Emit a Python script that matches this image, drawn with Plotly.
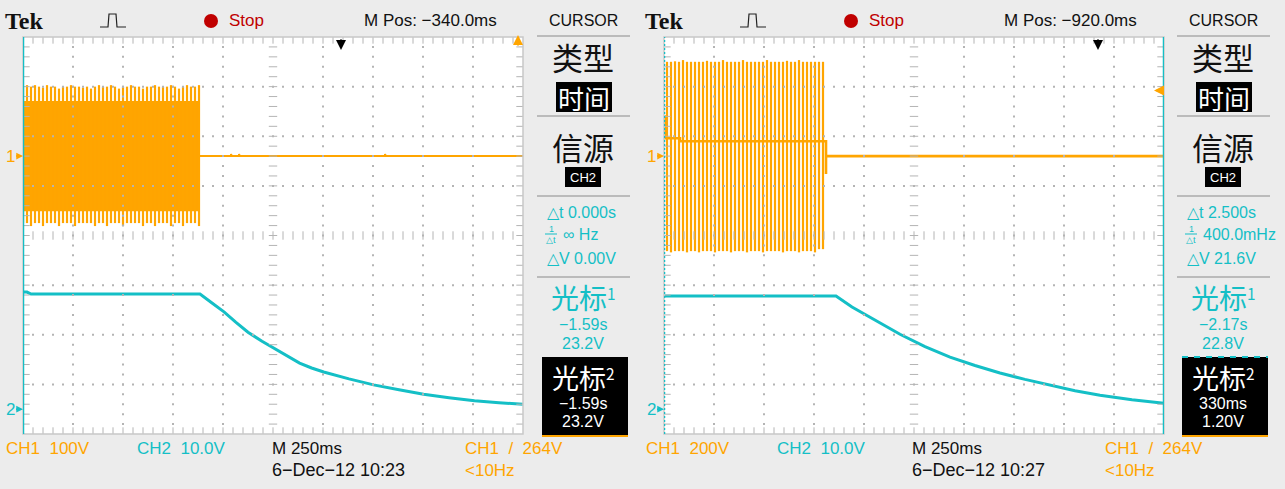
import plotly.graph_objects as go

W, H = 1285, 489
ORANGE = "#FFA500"
CYAN = "#14BFC6"
GRIDC = "#B4B4B4"
BG = "#ECECEC"
FONT = "Liberation Sans, Arial, sans-serif"
CJK = "Noto Sans CJK SC, sans-serif"
SERIF = "Liberation Serif, Times New Roman, serif"

# ---------------- data : capture A (10:23) ----------------
a_time_left = -1.59          # s, left edge of screen (cursor 1 & 2)
a_time_div = 0.25            # s/div
a_ch1_scale, a_ch1_gnd = 100.0, 1.6     # V/div, ground marker (div)
a_ch2_scale, a_ch2_gnd = 10.0, -3.5
a_ch1_burst_start, a_ch1_burst_end = -1.59, -0.705
a_ch1_period = 0.02
a_ch1_envelope = 111.0
a_ch1_peaks = [140, 143, 140, 143, 140, 138, 143, 140, 140, 136, 140, 140, 143, 140, 140,
               138, 140, 136, 140, 143, 140, 140, 143, 140, 136, 140, 140, 143, 140, 140,
               136, 140, 140, 143, 140, 140, 140, 143, 140, 136, 140, 143, 140, 140, 143]
a_ch1_troughs = [-135, -135, -141, -135, -135, -141, -135, -135, -135, -141, -135, -135, -135, -141, -135,
                 -135, -135, -135, -141, -135, -135, -141, -135, -135, -135, -141, -135, -135, -135, -135,
                 -141, -135, -135, -141, -135, -135, -135, -141, -135, -135, -141, -135, -135, -135, -141]
a_ch1_tail_t = [-0.705, -0.55, -0.55, -0.545, -0.51, -0.51, -0.505, 0.22, 0.22, 0.225, 0.91]
a_ch1_tail_v = [0, 0, 4, 0, 0, 4, 0, 0, 4, 0, 0]
a_ch2_t = [-1.59, -1.57, -1.55, -0.705, -0.645, -0.585, -0.525, -0.465, -0.395, -0.3275, -0.267,
           -0.207, -0.147, -0.0865, 0.04, 0.163, 0.29, 0.413, 0.54, 0.6675, 0.79, 0.91]
a_ch2_v = [23.6, 23.6, 23.2, 23.2, 21.4, 19.6, 17.5, 15.5, 13.7, 12.1, 10.6,
           9.3, 8.3, 7.5, 6.1, 4.9, 3.9, 3.0, 2.3, 1.7, 1.3, 1.0]

# ---------------- data : capture B (10:27) ----------------
b_time_left = -2.17
b_time_div = 0.25
b_ch1_scale, b_ch1_gnd = 200.0, 1.6
b_ch2_scale, b_ch2_gnd = 10.0, -3.5
b_ch1_burst_start = -2.155
b_ch1_period = 0.02
b_ch1_peaks = [380, 380, 382, 380, 387, 380, 380, 380, 380, 380, 384, 380, 380, 380, 387, 380, 380, 380, 380, 387,
               380, 380, 380, 380, 380, 387, 380, 380, 380, 380, 384, 380, 380, 387, 380, 380, 380, 380, 380, 380]
b_ch1_troughs = [-383, -388, -383, -383, -383, -388, -383, -383, -388, -383, -383, -383, -388, -383, -383, -383, -388, -383, -383, -383,
                 -388, -383, -383, -383, -388, -383, -383, -383, -383, -388, -383, -383, -383, -388, -383, -383, -383, -388, -375, -375]
b_ch1_mid_t = [-2.165, -2.165, -2.09, -2.09, -1.36, -1.36, -1.36, 0.33]
b_ch1_mid_v = [165, 72, 72, 60, 60, -72, 0, 0]
b_ch2_t = [-2.17, -1.31, -1.23, -1.14, -0.99, -0.865, -0.74, -0.615, -0.49, -0.365, -0.24, -0.115, 0.01, 0.17, 0.33]
b_ch2_v = [22.8, 22.8, 20.6, 18.5, 15.1, 12.6, 10.5, 8.8, 7.3, 6.0, 4.8, 3.7, 2.8, 1.9, 1.2]

# ---------------- labels ----------------
NB = "\u00a0"
a_labels = dict(mpos="M Pos: \u2212340.0ms", ch1=f"CH1{NB}{NB}100V", ch2=f"CH2{NB}{NB}10.0V", tb="M 250ms",
                date="6\u2212Dec\u221212 10:23", trig=f"CH1{NB}{NB}/{NB}{NB}264V", freq="<10Hz",
                dt="\u25b3t 0.000s", inv="\u221e Hz", dv="\u25b3V 0.00V",
                c1=["\u22121.59s", "23.2V"], c2=["\u22121.59s", "23.2V"])
b_labels = dict(mpos="M Pos: \u2212920.0ms", ch1=f"CH1{NB}{NB}200V", ch2=f"CH2{NB}{NB}10.0V", tb="M 250ms",
                date="6\u2212Dec\u221212 10:27", trig=f"CH1{NB}{NB}/{NB}{NB}264V", freq="<10Hz",
                dt="\u25b3t 2.500s", inv="400.0mHz", dv="\u25b3V 21.6V",
                c1=["\u22122.17s", "22.8V"], c2=["330ms", "1.20V"])
trigger_level_v = 264.0

panels = [
    dict(off=0, px0=23, px1=523, t_left=a_time_left, t_div=a_time_div,
         s1=a_ch1_scale, g1=a_ch1_gnd, s2=a_ch2_scale, g2=a_ch2_gnd, lab=a_labels,
         cursors=[(a_time_left, "solid")], box_dash=False),
    dict(off=640, px0=664, px1=1164, t_left=b_time_left, t_div=b_time_div,
         s1=b_ch1_scale, g1=b_ch1_gnd, s2=b_ch2_scale, g2=b_ch2_gnd, lab=b_labels,
         cursors=[(b_time_left, "2px,2px"), (b_time_left + 10 * b_time_div, "solid")], box_dash=True),
]
PY0, PY1 = 37, 434


def px(x):
    return x / W


def py(y):
    return 1 - y / H


def axn(kind, n):
    return kind if n == 1 else f"{kind}{n}"


fig = go.Figure()
layout = dict(width=W, height=H, margin=dict(l=0, r=0, t=0, b=0),
              paper_bgcolor=BG, plot_bgcolor="white", showlegend=False)
shapes, annots = [], []


def txt(text, x, y, size, color="#1a1a1a", xanchor="left", family=FONT):
    annots.append(dict(xref="paper", yref="paper", x=px(x), y=py(y), text=text, showarrow=False,
                       xanchor=xanchor, yanchor="middle", font=dict(family=family, size=size, color=color)))


def grid_trace(xa, ya):
    dx, dy = [], []
    for xi in [1, 2, 3, 4, 6, 7, 8, 9]:
        for k in range(1, 40):
            dx.append(xi); dy.append(-4 + 0.2 * k)
    for yi in [-3, -2, -1, 1, 2, 3]:
        for k in range(1, 50):
            dx.append(0.2 * k); dy.append(yi)
    fig.add_trace(go.Scatter(x=dx, y=dy, mode="markers", xaxis=xa, yaxis=ya, hoverinfo="skip",
                             marker=dict(symbol="square", size=2, color=GRIDC, line=dict(width=0))))
    hx, hy = [], []
    for k in range(1, 40):
        for xv in [5, 0.05, 9.95]:
            hx.append(xv); hy.append(-4 + 0.2 * k)
    fig.add_trace(go.Scatter(x=hx, y=hy, mode="markers", xaxis=xa, yaxis=ya, hoverinfo="skip",
                             marker=dict(symbol="line-ew", size=6, line=dict(width=1, color=GRIDC))))
    vx, vy = [], []
    for k in range(1, 50):
        for yv in [0, 3.95, -3.95]:
            vx.append(0.2 * k); vy.append(yv)
    fig.add_trace(go.Scatter(x=vx, y=vy, mode="markers", xaxis=xa, yaxis=ya, hoverinfo="skip",
                             marker=dict(symbol="line-ns", size=6, line=dict(width=1, color=GRIDC))))


for p, P in enumerate(panels):
    tid, gx = 2 * p + 1, 2 * p + 2
    y1, y2, gy = 3 * p + 1, 3 * p + 2, 3 * p + 3
    dom_x = [px(P["px0"]), px(P["px1"])]
    dom_y = [py(PY1), py(PY0)]
    t0, t1 = P["t_left"], P["t_left"] + 10 * P["t_div"]
    layout[axn("xaxis", tid)] = dict(domain=dom_x, range=[t0, t1], visible=False, anchor=axn("y", y1))
    layout[axn("yaxis", y1)] = dict(domain=dom_y, range=[(-4 - P["g1"]) * P["s1"], (4 - P["g1"]) * P["s1"]],
                                    visible=False, anchor=axn("x", tid))
    layout[axn("yaxis", y2)] = dict(overlaying=axn("y", y1), range=[(-4 - P["g2"]) * P["s2"], (4 - P["g2"]) * P["s2"]],
                                    visible=False, anchor=axn("x", tid))
    layout[axn("xaxis", gx)] = dict(overlaying=axn("x", tid), range=[0, 10], visible=False, anchor=axn("y", gy))
    layout[axn("yaxis", gy)] = dict(overlaying=axn("y", y1), range=[-4, 4], visible=False, anchor=axn("x", gx))
    XT, Y1, Y2 = axn("x", tid), axn("y", y1), axn("y", y2)

    # ---- CH1 ----
    if p == 0:
        env = a_ch1_envelope
        fig.add_trace(go.Scatter(x=[a_ch1_burst_start, a_ch1_burst_end, a_ch1_burst_end, a_ch1_burst_start],
                                 y=[-env, -env, env, env], fill="toself", fillcolor=ORANGE, mode="lines",
                                 line=dict(width=0, color=ORANGE), xaxis=XT, yaxis=Y1, hoverinfo="skip"))
        start, per, peaks, troughs = a_ch1_burst_start, a_ch1_period, a_ch1_peaks, a_ch1_troughs
        tail_t, tail_v, tail_w = a_ch1_tail_t, a_ch1_tail_v, 2
    else:
        start, per, peaks, troughs = b_ch1_burst_start, b_ch1_period, b_ch1_peaks, b_ch1_troughs
        tail_t, tail_v, tail_w = b_ch1_mid_t, b_ch1_mid_v, 2.6
    sx, sy = [], []
    for i, (pk, tr) in enumerate(zip(peaks, troughs)):
        t = start + i * per
        sx += [t, t, None]
        sy += [tr, pk, None]
    fig.add_trace(go.Scatter(x=sx, y=sy, mode="lines", line=dict(width=2.2, color=ORANGE),
                             xaxis=XT, yaxis=Y1, hoverinfo="skip"))
    fig.add_trace(go.Scatter(x=tail_t, y=tail_v, mode="lines", line=dict(width=tail_w, color=ORANGE),
                             xaxis=XT, yaxis=Y1, hoverinfo="skip"))
    # ---- CH2 ----
    ct, cv = (a_ch2_t, a_ch2_v) if p == 0 else (b_ch2_t, b_ch2_v)
    fig.add_trace(go.Scatter(x=ct, y=cv, mode="lines", line=dict(width=3, color=CYAN),
                             xaxis=XT, yaxis=Y2, hoverinfo="skip"))
    # ---- graticule ----
    grid_trace(axn("x", gx), axn("y", gy))

    shapes.append(dict(type="rect", xref=f"{XT} domain", yref=f"{Y1} domain", x0=0, x1=1, y0=0, y1=1,
                       line=dict(color="#C8C8C8", width=1.5), layer="above"))
    for ct_, dash in P["cursors"]:
        shapes.append(dict(type="line", xref=XT, yref=f"{Y1} domain", x0=ct_, x1=ct_, y0=0, y1=1,
                           line=dict(color=CYAN, width=2.5, dash=dash), layer="above"))
    annots.append(dict(x=t0, y=0, xref=XT, yref=Y1, text="1", showarrow=True, ax=-13, ay=0,
                       arrowhead=2, arrowsize=0.9, arrowwidth=1.5, arrowcolor=ORANGE, standoff=0,
                       font=dict(family=FONT, size=17, color=ORANGE)))
    annots.append(dict(x=t0, y=0, xref=XT, yref=Y2, text="2", showarrow=True, ax=-13, ay=0,
                       arrowhead=2, arrowsize=0.9, arrowwidth=1.5, arrowcolor=CYAN, standoff=0,
                       font=dict(family=FONT, size=17, color=CYAN)))
    annots.append(dict(x=0, y=py(50), xref=XT, yref="paper", text="", showarrow=True, ax=0, ay=-12,
                       arrowhead=2, arrowsize=1, arrowwidth=2, arrowcolor="black", standoff=0))
    top_v = (4 - P["g1"]) * P["s1"]
    if trigger_level_v > top_v:
        annots.append(dict(x=t1 - 0.025, y=py(35), xref=XT, yref="paper", text="", showarrow=True, ax=0, ay=12,
                           arrowhead=2, arrowsize=1, arrowwidth=2, arrowcolor=ORANGE, standoff=0))
    else:
        annots.append(dict(x=t1 - 0.05, y=trigger_level_v, xref=XT, yref=Y1, text="", showarrow=True, ax=10, ay=0,
                           arrowhead=2, arrowsize=1, arrowwidth=2, arrowcolor=ORANGE, standoff=0))

    # ---- top bar ----
    o = P["off"]
    L = P["lab"]
    txt("<b>Tek</b>", 3 + o, 21, 24, "#111", family=SERIF)
    shapes.append(dict(type="path", xref="paper", yref="paper",
                       path=f"M {px(100+o)} {py(27)} L {px(108+o)} {py(27)} L {px(109+o)} {py(14)} L {px(116+o)} {py(14)} "
                            f"L {px(117+o)} {py(27)} L {px(126+o)} {py(27)}",
                       line=dict(color="#222", width=1.2)))
    shapes.append(dict(type="circle", xref="paper", yref="paper", x0=px(204 + o), x1=px(218 + o),
                       y0=py(28), y1=py(14), fillcolor="#C00000", line=dict(width=0)))
    txt("Stop", 227 + o, 21, 17, "#C00000")
    txt(L["mpos"], 362 + o, 21, 17, "#111")
    txt("CURSOR", 583 + o, 21, 16, "#111", xanchor="center")

    # ---- side menu ----
    for yy in [36, 116, 196, 277]:
        shapes.append(dict(type="line", xref="paper", yref="paper", x0=px(537 + o), x1=px(630 + o),
                           y0=py(yy), y1=py(yy), line=dict(color="#BBBBBB", width=2)))
    txt("类型", 583 + o, 56, 31, "#111", xanchor="center", family=CJK)
    shapes.append(dict(type="rect", xref="paper", yref="paper", x0=px(556 + o), x1=px(612 + o),
                       y0=py(112), y1=py(82), fillcolor="black", line=dict(width=0)))
    txt("时间", 584 + o, 97, 26, "white", xanchor="center", family=CJK)
    txt("信源", 583 + o, 146, 31, "#111", xanchor="center", family=CJK)
    shapes.append(dict(type="rect", xref="paper", yref="paper", x0=px(565 + o), x1=px(601 + o),
                       y0=py(187), y1=py(167), fillcolor="black", line=dict(width=0)))
    txt("CH2", 583 + o, 177, 13, "white", xanchor="center")
    txt(L["dt"], 545 + o, 212, 16, CYAN)
    txt("1", 551 + o, 229, 9, CYAN, xanchor="center")
    shapes.append(dict(type="line", xref="paper", yref="paper", x0=px(545 + o), x1=px(557 + o),
                       y0=py(234), y1=py(234), line=dict(color=CYAN, width=1)))
    txt("\u25b3t", 551 + o, 240, 9, CYAN, xanchor="center")
    txt(L["inv"], 561 + o, 235, 16, CYAN)
    txt(L["dv"], 545 + o, 258, 16, CYAN)
    txt("光标<span style='font-size:22px'><sup>1</sup></span>", 583 + o, 297, 28, CYAN, xanchor="center", family=CJK)
    txt(L["c1"][0], 583 + o, 324, 16, CYAN, xanchor="center")
    txt(L["c1"][1], 583 + o, 343, 16, CYAN, xanchor="center")
    shapes.append(dict(type="rect", xref="paper", yref="paper", x0=px(542 + o), x1=px(628 + o),
                       y0=py(435), y1=py(357), fillcolor="black", line=dict(width=0)))
    shapes.append(dict(type="line", xref="paper", yref="paper", x0=px(542 + o), x1=px(628 + o),
                       y0=py(436), y1=py(436), line=dict(color=ORANGE, width=2)))
    if P["box_dash"]:
        shapes.append(dict(type="line", xref="paper", yref="paper", x0=px(542 + o), x1=px(628 + o),
                           y0=py(357), y1=py(357), line=dict(color=CYAN, width=2, dash="6px,6px")))
    txt("光标<span style='font-size:22px'><sup>2</sup></span>", 583 + o, 377, 27, "white", xanchor="center", family=CJK)
    txt(L["c2"][0], 583 + o, 403, 16, "white", xanchor="center")
    txt(L["c2"][1], 583 + o, 421, 16, "white", xanchor="center")

    # ---- bottom status ----
    txt(L["ch1"], 4 + o, 448, 17, ORANGE)
    txt(L["ch2"], 135 + o, 448, 17, CYAN)
    txt(L["tb"], 270 + o, 448, 17, "#111")
    txt(L["date"], 270 + o, 470, 18, "#111")
    txt(L["trig"], 463 + o, 448, 17, ORANGE)
    txt(L["freq"], 463 + o, 470, 17, ORANGE)

layout["shapes"] = shapes
layout["annotations"] = annots
fig.update_layout(**layout)
fig.write_html("out.html", config={"displayModeBar": False},
               post_script="document.body.style.margin='0';document.body.style.overflow='hidden';")
